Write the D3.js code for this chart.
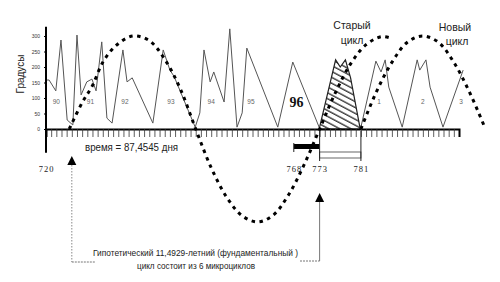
<!DOCTYPE html>
<html><head><meta charset="utf-8">
<script src="https://cdn.jsdelivr.net/npm/d3@7"></script>
<style>body{margin:0;background:#fff}svg{display:block}</style>
</head><body>
<svg id="c" width="500" height="282"></svg>
<script>
// ---- data ----
const lineX = [720,720.6,721.9,722.9,724.1,725.2,726.0,726.8,727.9,728.9,729.7,730.8,731.8,732.8,734.9,735.7,736.7,740.7,742.7,744.0,744.8,748.9,749.8,750.6,751.8,752.5,754.5,755.6,757.0,758.0,758.9,764.9,767.8,772.9];
const lineY = [158,158,123,287,29,13,303,110,152,161,123,281,35,19,255,152,165,19,255,190,170,6,52,255,152,184,87,323,6,52,261,6,216,6];
const hatchX = [773.0,776.1,777.0,778.0,779.0,780.8];
const hatchY = [6,223,200,223,165,6];
const line2X = [781.0,783.9,784.9,785.7,786.4,789.0,791.9,792.4,793.6,794.4,796.9,800.8];
const line2Y = [6,219,184,223,135,6,223,190,223,135,6,190];
const cycleMainX = [724.5,727,729,731,733.5,736.8,740,743,746,749,752,755,758,761,764,767,770,773,776,779,782,785,787];
const cycleMainY = [0,85,140,215,268,300,285,225,130,0,-125,-220,-280,-300,-278,-212,-115,0,115,210,272,298,292];
const cycleNewX = [781,784,787,790,793,796,799,802,805];
const cycleNewY = [0,120,215,280,300,280,215,120,5];
const cycleLabels = ["90","91","92","93","94","95","96","1","2","3"];
const cycleLabelX = [722.0,728.6,735.3,744.2,752.0,759.7,768.5,784.5,793.0,800.4];
const yTicks = [0,50,100,150,200,250,300];
const xLabelTicks = [720,768,773,781];
const tickDays = d3.range(720,800);

// ---- scales ----
const svg = d3.select("#c");
const x = d3.scaleLinear().domain([720,800]).range([46,459]);
const y = d3.scaleLinear().domain([0,300]).range([129,36]);
const sans = "'Liberation Sans', Arial, sans-serif";
const serif = "'Liberation Serif', 'Times New Roman', serif";

// hatch pattern
const defs = svg.append("defs");
const pat = defs.append("pattern").attr("id","hatch").attr("patternUnits","userSpaceOnUse")
  .attr("width",8).attr("height",5.2).attr("patternTransform","rotate(28)");
pat.append("line").attr("x1",0).attr("y1",1).attr("x2",8).attr("y2",1).attr("stroke","#1a1a1a").attr("stroke-width",1.2);

// hatched area
svg.append("path")
  .datum(hatchX.map((d,i)=>[d,hatchY[i]]))
  .attr("d", d3.area().x(d=>x(d[0])).y0(y(0)).y1(d=>y(d[1])))
  .attr("fill","url(#hatch)").attr("stroke","#222").attr("stroke-width",1.2);

// price-like line
const ln = d3.line().x(d=>x(d[0])).y(d=>y(d[1]));
svg.append("path").datum(lineX.map((d,i)=>[d,lineY[i]])).attr("d",ln)
  .attr("fill","none").attr("stroke","#555").attr("stroke-width",1);
svg.append("path").datum(line2X.map((d,i)=>[d,line2Y[i]])).attr("d",ln)
  .attr("fill","none").attr("stroke","#555").attr("stroke-width",1);

// cycle labels
svg.selectAll("text.cl").data(cycleLabels).enter().append("text")
  .attr("class","cl")
  .attr("x",(d,i)=>x(cycleLabelX[i])).attr("y",y(88))
  .attr("text-anchor","middle")
  .attr("font-family", (d)=> d==="96"?serif:sans)
  .attr("font-size",(d)=> d==="96"?14:6.5)
  .attr("font-weight",(d)=> d==="96"?"bold":"normal")
  .attr("fill",(d)=> d==="96"?"#111":"#666")
  .attr("dy",(d)=> d==="96"?5:2)
  .text(d=>d);

// x axis ticks (under baseline)
const xAxis = d3.axisBottom(x).tickValues(tickDays).tickSize(8).tickFormat("");
const gx = svg.append("g").attr("transform",`translate(0,${y(0)})`).call(xAxis);
gx.select(".domain").attr("stroke","#000").attr("stroke-width",2);
gx.selectAll(".tick line").attr("stroke","#333").attr("stroke-width",0.8);

// x labels
const xLab = d3.axisBottom(x).tickValues(xLabelTicks).tickSize(0).tickFormat(d3.format("d"));
const gl = svg.append("g").attr("transform",`translate(0,163)`).call(xLab);
gl.select(".domain").remove();
gl.selectAll("text").attr("font-family",serif).attr("font-size",8.5).attr("fill","#222").attr("letter-spacing",1);

// y axis
const yAxis = d3.axisLeft(y).tickValues(yTicks).tickSize(2).tickFormat(d3.format("d"));
const gy = svg.append("g").attr("transform","translate(46,0)").call(yAxis);
gy.select(".domain").remove();
gy.selectAll("text").attr("font-family",sans).attr("font-size",5).attr("fill","#333").attr("dx",-1);
svg.append("line").attr("x1",46).attr("x2",46).attr("y1",y(330)).attr("y2",y(-77))
  .attr("stroke","#000").attr("stroke-width",2);

// dotted cycle curves
const cl = d3.line().x(d=>x(d[0])).y(d=>y(d[1])).curve(d3.curveCatmullRom);
[[cycleMainX,cycleMainY],[cycleNewX,cycleNewY]].forEach(([xs,ys])=>{
  svg.append("path").datum(xs.map((d,i)=>[d,ys[i]])).attr("d",cl)
    .attr("fill","none").attr("stroke","#000").attr("stroke-width",3)
    .attr("stroke-dasharray","3.5 4.5").attr("stroke-linecap","butt");
});

// marker bars 768-773 and 773-781
svg.append("rect").attr("x",x(768)).attr("y",144).attr("width",x(773)-x(768)).attr("height",5).attr("fill","#000");
svg.append("rect").attr("x",x(773)).attr("y",152).attr("width",x(781)-x(773)).attr("height",6)
  .attr("fill","#fff").attr("stroke","#555").attr("stroke-width",0.9);
[[768,143,152],[773,131,161],[781,131,161]].forEach(([d,a,b])=>{
  svg.append("line").attr("x1",x(d)).attr("x2",x(d)).attr("y1",a).attr("y2",b).attr("stroke","#222").attr("stroke-width",1);
});

// texts
svg.append("text").attr("transform","translate(24,74) rotate(-90)").attr("text-anchor","middle")
  .attr("font-family",sans).attr("font-size",10).attr("fill","#222").text("Градусы");
svg.append("text").attr("x",85).attr("y",151).attr("font-family",sans).attr("font-size",10)
  .attr("textLength",93).attr("lengthAdjust","spacingAndGlyphs").attr("fill","#222").text("время = 87,4545 дня");
svg.append("text").attr("x",352).attr("y",29).attr("text-anchor","middle").attr("font-family",sans).attr("font-size",10.5).attr("fill","#222").text("Старый");
svg.append("text").attr("x",352).attr("y",44).attr("text-anchor","middle").attr("font-family",sans).attr("font-size",10.5).attr("fill","#222").text("цикл");
svg.append("text").attr("x",455).attr("y",31).attr("text-anchor","middle").attr("font-family",sans).attr("font-size",10.5).attr("fill","#222").text("Новый");
svg.append("text").attr("x",457).attr("y",45).attr("text-anchor","middle").attr("font-family",sans).attr("font-size",10.5).attr("fill","#222").text("цикл");
svg.append("text").attr("x",93).attr("y",256).attr("font-family",sans).attr("font-size",9)
  .attr("textLength",205).attr("lengthAdjust","spacingAndGlyphs").attr("fill","#222").text("Гипотетический 11,4929-летний (фундаментальный )");
svg.append("text").attr("x",137).attr("y",269).attr("font-family",sans).attr("font-size",9)
  .attr("textLength",118).attr("lengthAdjust","spacingAndGlyphs").attr("fill","#222").text("цикл состоит из 6 микроциклов");

// arrows and connectors
function arrow(xv, tip){
  const cx = x(xv);
  svg.append("path").attr("d",`M${cx},${tip} L${cx-4.5},${tip+9} L${cx+4.5},${tip+9} Z`).attr("fill","#000");
}
arrow(725,156); arrow(773,193);
svg.append("line").attr("x1",x(725)).attr("x2",x(725)).attr("y1",165).attr("y2",262).attr("stroke","#888").attr("stroke-width",1).attr("stroke-dasharray","1.5 1.5");
svg.append("line").attr("x1",x(725)).attr("x2",95).attr("y1",262).attr("y2",262).attr("stroke","#777").attr("stroke-width",1).attr("stroke-dasharray","2 1");
svg.append("line").attr("x1",x(773)).attr("x2",x(773)).attr("y1",202).attr("y2",261).attr("stroke","#777").attr("stroke-width",1);
svg.append("line").attr("x1",300).attr("x2",x(773)).attr("y1",261).attr("y2",261).attr("stroke","#777").attr("stroke-width",1).attr("stroke-dasharray","2 1");
</script>
</body></html>
